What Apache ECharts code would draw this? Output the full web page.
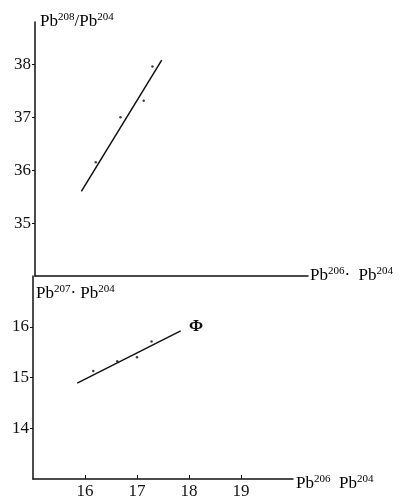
<!DOCTYPE html>
<html>
<head>
<meta charset="utf-8">
<script src="https://cdn.jsdelivr.net/npm/echarts@6/dist/echarts.min.js"></script>
<style>
  html, body { margin: 0; padding: 0; background: #fff; }
  #chart { width: 404px; height: 500px; }
</style>
</head>
<body>
<div id="chart"></div>
<script>
// top panel: Pb208/Pb204 vs Pb206/Pb204
const topPoints = [[16.18, 36.15], [16.66, 37.0], [17.11, 37.31], [17.28, 37.96]]
const topLine = [[15.9, 35.6], [17.46, 38.08]]
const topYTicks = [35, 36, 37, 38]

// bottom panel: Pb207/Pb204 vs Pb206/Pb204
const bottomPoints = [[16.16, 15.13], [16.62, 15.32], [17.0, 15.4], [17.28, 15.71]]
const bottomLine = [[15.85, 14.89], [17.84, 15.92]]
const bottomYTicks = [14, 15, 16]
const xTicks = [16, 17, 18, 19]

const chart = echarts.init(document.getElementById('chart'))

const font = 'Liberation Serif'
const ink = '#111'

const rich = {
  b: { fontFamily: font, fontSize: 17, color: ink, lineHeight: 20 },
  s: { fontFamily: font, fontSize: 11, color: ink, verticalAlign: 'top', lineHeight: 20, padding: [0, 0, 9, 0] },
}
const pbLabel = (a, sep, b) => `{b|Pb}{s|${a}}{b|${sep}Pb}{s|${b}}`

const axisLine = { show: true, lineStyle: { color: ink, width: 1.5 } }
const tickLabel = { fontFamily: font, fontSize: 17, color: ink, margin: 4 }

const options = {
  animation: false,
  backgroundColor: '#fff',
  grid: [
    { left: 35, top: 22, width: 273, height: 254 },
    { left: 33, top: 276, width: 260, height: 209 },
  ],
  xAxis: [
    {
      gridIndex: 0, type: 'value', min: 15, max: 20.3, interval: 1,
      axisLine, axisTick: { show: false }, axisLabel: { show: false }, splitLine: { show: false },
    },
    {
      gridIndex: 1, type: 'value', min: 15, max: 20, interval: 1,
      axisLine,
      axisTick: { show: true, inside: true, length: 4, customValues: xTicks, lineStyle: { color: ink } },
      axisLabel: { ...tickLabel, customValues: xTicks },
      splitLine: { show: false },
    },
  ],
  yAxis: [
    {
      gridIndex: 0, type: 'value', min: 34, max: 38.8, interval: 1,
      axisLine,
      axisTick: { show: true, length: 3, customValues: topYTicks, lineStyle: { color: ink } },
      axisLabel: { ...tickLabel, customValues: topYTicks },
      splitLine: { show: false },
    },
    {
      gridIndex: 1, type: 'value', min: 13, max: 17, interval: 1,
      axisLine,
      axisTick: { show: true, length: 3, customValues: bottomYTicks, lineStyle: { color: ink } },
      axisLabel: { ...tickLabel, customValues: bottomYTicks },
      splitLine: { show: false },
    },
  ],
  graphic: [
    { type: 'text', left: 40, top: 12, style: { text: pbLabel(208, '/', 204), rich } },
    { type: 'text', left: 36, top: 284, style: { text: pbLabel(207, '· ', 204), rich } },
    { type: 'text', left: 310, top: 266, style: { text: pbLabel(206, '·  ', 204), rich } },
    { type: 'text', left: 296, top: 474, style: { text: pbLabel(206, '  ', 204), rich } },
    { type: 'text', left: 189, top: 318, style: { text: 'Φ', font: `bold 17px ${font}`, fill: ink } },
  ],
  series: [
    {
      type: 'line', xAxisIndex: 0, yAxisIndex: 0, data: topLine,
      symbol: 'none', lineStyle: { color: ink, width: 1.5 },
    },
    {
      type: 'scatter', xAxisIndex: 0, yAxisIndex: 0, data: topPoints,
      symbolSize: 2.5, itemStyle: { color: ink },
    },
    {
      type: 'line', xAxisIndex: 1, yAxisIndex: 1, data: bottomLine,
      symbol: 'none', lineStyle: { color: ink, width: 1.5 },
    },
    {
      type: 'scatter', xAxisIndex: 1, yAxisIndex: 1, data: bottomPoints,
      symbolSize: 2.5, itemStyle: { color: ink },
    },
  ],
}
chart.setOption(options, true)
</script>
</body>
</html>
